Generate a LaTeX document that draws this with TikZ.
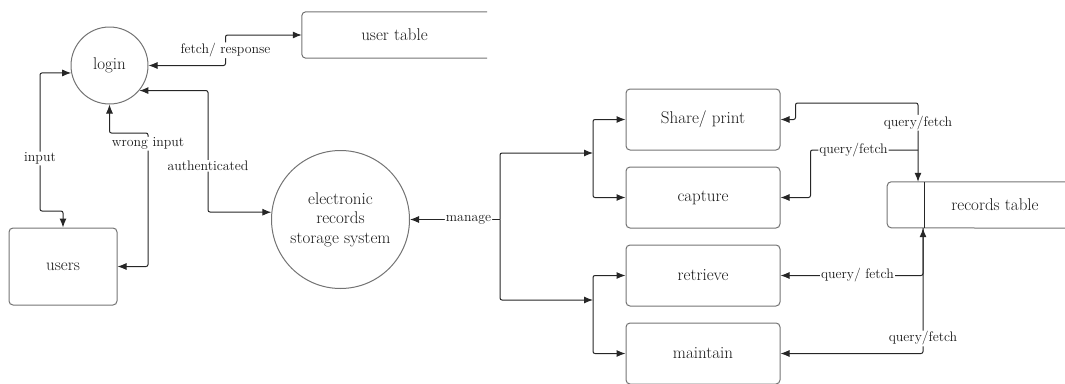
\documentclass[tikz,border=0pt]{standalone}
\usepackage{tikz}
\usetikzlibrary{arrows.meta,positioning,calc}

\begin{document}
\begin{tikzpicture}[x=1pt, y=-1pt, >={Latex[length=9pt,width=7pt]}, font=\fontsize{17}{19.5}\selectfont, text=black!90]

    \tikzstyle{proc}=[draw=black!55,circle,line width=1pt,align=center]
    \tikzstyle{box}=[draw=black!55,rectangle,rounded corners=4pt,line width=1pt,minimum width=154pt,minimum height=61pt]
    \tikzstyle{store}=[minimum height=46pt,inner sep=0pt]
    \tikzstyle{line}=[draw=black!85,line width=1pt,rounded corners=2pt]
    \tikzstyle{lbl}=[fill=white,inner sep=1pt,font=\fontsize{13.8}{15}\selectfont]

    \useasboundingbox (0,0) rectangle (1065,383);

    \node[proc, minimum size=77pt] (L) at (109.5,65.5)           {login};
    \node[box, minimum width=108pt, minimum height=77pt] (U) at (63,266.5) {users};
    \node[proc, minimum size=138pt] (E) at (340.5,219.5)          {electronic\\records\\storage system};
    \node[store, minimum width=185pt] (UT) at (394.5,35)          {user table};
    \node[store, minimum width=140pt] (RT) at (995,205)           {records table};

    \node[box] (S) at (703,119.5)                                 {Share/ print};
    \node[box] (C) [below=16pt of S]                              {capture};
    \node[box] (R) [below=16pt of C]                              {retrieve};
    \node[box] (Mt) [below=16pt of R]                             {maintain};

    \draw[draw=black!55,line width=1pt,rounded corners=4pt] (UT.north east) -- (UT.north west) -- (UT.south west) -- (UT.south east);
    \draw[draw=black!55,line width=1pt,rounded corners=4pt] (RT.north east) -- ++(-178,0) -- ++(0,46) -- (RT.south east);
    \draw[draw=black!85,line width=1pt] (RT.north west) -- (RT.south west);

    \coordinate (M) at (500,219.5);
    \coordinate (B1) at (593,153);
    \coordinate (B2) at (593,300);
    \coordinate (q1) at (918,103);
    \coordinate (q2) at (918,150);
    \coordinate (q3) at (923,0);

    \draw[line,<->] (L.east) -- ++(77,0) |- node[lbl,pos=0.25] {fetch/ response} (UT.west);
    \draw[line,<->] (L.191) -| node[lbl,pos=0.81] {input} (40,211) -| (U.north);
    \draw[line,<->] (U.east) -| node[lbl,pos=0.96] {wrong input} (148,133) -| (L.south);
    \draw[line,<->] (L.-40) -| node[lbl,pos=0.81] {authenticated} (208,212) -- (E.174);

    \draw[line,<-] (E.east) -- node[lbl,pos=0.65] {manage} (M);
    \draw[line,->] (M) |- (B1);
    \draw[line,->] (M) |- (B2);
    \draw[line,->] (B1) |- (S.west);
    \draw[line,->] (B1) |- (C.west);
    \draw[line,->] (B2) |- (R.west);
    \draw[line,->] (B2) |- (Mt.west);

    \draw[line,<->] (S.east) -- ++(15,0) |- (q1) -- node[lbl,pos=0.25] {query/fetch} (q1 |- RT.north);
    \draw[line,<-] (C.east) -- ++(30,0) |- node[lbl,pos=0.7] {query/fetch} (q2);
    \draw[line,<->] (R.east) -| node[lbl,pos=0.27] {query/ fetch} (q3 |- RT.south);
    \draw[line,<-] (Mt.east) -| node[lbl,pos=0.56] {query/fetch} (q3 |- RT.south);
\end{tikzpicture}
\end{document}
